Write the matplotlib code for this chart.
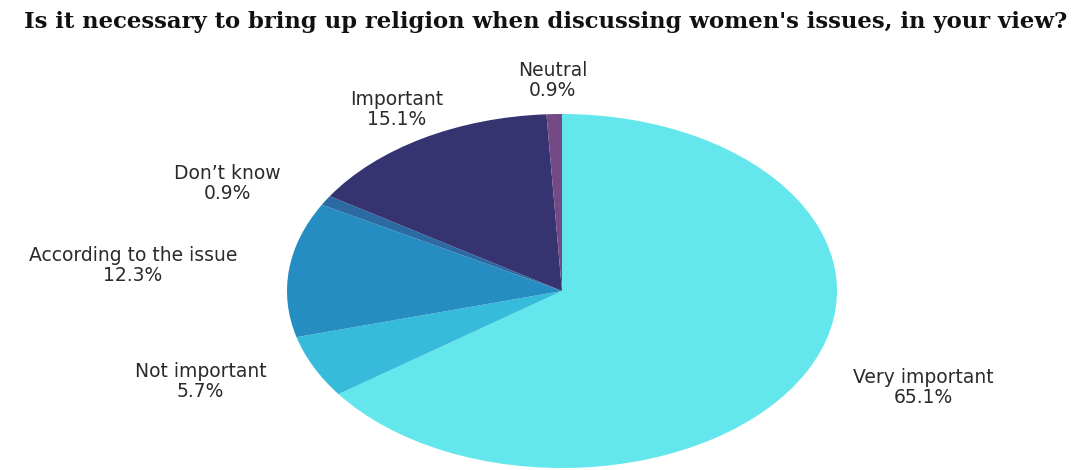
import matplotlib
matplotlib.use("Agg")
import matplotlib.pyplot as plt
import numpy as np

# survey answers, clockwise from 12 o'clock
answers = ["Very important", "Not important", "According to the issue",
           "Don\u2019t know", "Important", "Neutral"]
shares = [65.1, 5.7, 12.3, 0.9, 15.1, 0.9]
colors = ["#63e7ec", "#36bbdb", "#268dc3", "#2b6aa3", "#353471", "#744a86"]

title = "Is it necessary to bring up religion when discussing women's issues, in your view?"

fig = plt.figure(figsize=(10.81, 4.70), dpi=100)
# pie is stretched sideways, so the axes box sets the ellipse
ax = fig.add_axes([287 / 1081, 2 / 470, 550 / 1081, 354 / 470])

labels = [f"{a}\n{s}%" for a, s in zip(answers, shares)]
wedges, texts = ax.pie(shares, colors=colors, startangle=90, counterclock=False,
                       labels=labels, labeldistance=1.19,
                       wedgeprops=dict(linewidth=0),
                       textprops=dict(fontsize=13.5, color="#2b2b2b",
                                      family="DejaVu Sans", linespacing=1.05))
ax.set_aspect("auto")
ax.set_xlim(-1, 1)
ax.set_ylim(-1, 1)

for w, t in zip(wedges, texts):
    mid = np.deg2rad((w.theta1 + w.theta2) / 2)
    c = np.cos(mid)
    if abs(c) < 0.6:
        t.set_ha("center")
    else:
        t.set_ha("left" if c > 0 else "right")
    t.set_va("center")
    t.set_multialignment("center")

fig.text(0.505, 1 - 22 / 470, title, ha="center", va="center",
         fontsize=16.4, fontweight="bold", family="DejaVu Serif", color="#111111")

fig.savefig("out.png", dpi=100)
